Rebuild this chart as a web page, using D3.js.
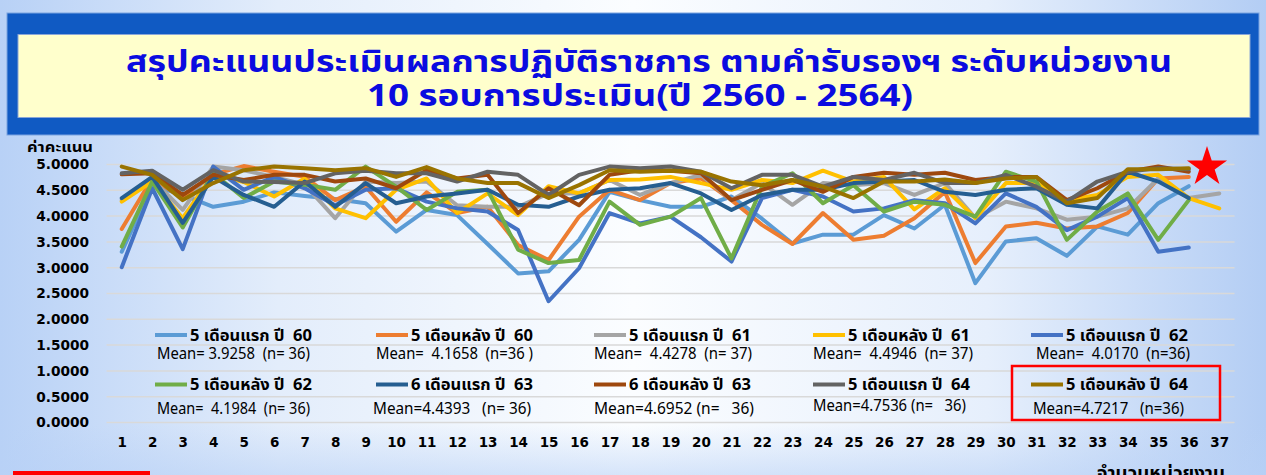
<!DOCTYPE html>
<html>
<head>
<meta charset="utf-8">
<script src="https://cdn.jsdelivr.net/npm/d3@7"></script>
<style>
html, body { margin: 0; padding: 0; overflow: hidden; background: #fff; }
svg { display: block; }
text { white-space: pre; }
</style>
</head>
<body>
<svg id="chart" width="1266" height="475"></svg>
<script>
// x categories: unit numbers 1..37
var units = d3.range(1, 38);
var yTicks = [0, 0.5, 1, 1.5, 2, 2.5, 3, 3.5, 4, 4.5, 5];

var titleLines = [
    'สรุปคะแนนประเมินผลการปฏิบัติราชการ ตามคำรับรองฯ ระดับหน่วยงาน',
    '10 รอบการประเมิน(ปี 2560 - 2564)'
];
var yTitle = 'ค่าคะแนน';
var xTitle = 'จำนวนหน่วยงาน';

var seriesNames = [
    '5 เดือนแรก ปี  60', '5 เดือนหลัง ปี  60', '5 เดือนแรก ปี  61', '5 เดือนหลัง ปี  61', '5 เดือนแรก ปี  62',
    '5 เดือนหลัง ปี  62', '6 เดือนแรก ปี  63', '6 เดือนหลัง ปี  63', '5 เดือนแรก ปี  64', '5 เดือนหลัง ปี  64'
];
var seriesMeans = [
    'Mean= 3.9258  (n= 36)', 'Mean=  4.1658  (n=36 )', 'Mean=  4.4278  (n= 37)', 'Mean=  4.4946  (n= 37)', 'Mean=  4.0170  (n=36)',
    'Mean=  4.1984  (n= 36)', 'Mean=4.4393   (n= 36)', 'Mean=4.6952 (n=   36)', 'Mean=4.7536 (n=   36)', 'Mean=4.7217   (n=36)'
];
var seriesColors = ['#5b9bd5', '#ed7d31', '#a5a5a5', '#ffc000', '#4472c4', '#70ad47', '#255e91', '#9e480e', '#636363', '#997300'];

var first60 = [3.30, 4.58, 4.40, 4.17, 4.27, 4.45, 4.38, 4.32, 4.24, 3.69, 4.11, 4.01, 3.45, 2.88, 2.92, 3.53, 4.46, 4.30,
    4.17, 4.17, 4.37, 3.94, 3.46, 3.63, 3.63, 4.01, 3.75, 4.21, 2.69, 3.50, 3.56, 3.22, 3.79, 3.63, 4.24, 4.57];
var last60 = [3.74, 4.72, 4.34, 4.80, 4.96, 4.85, 4.75, 4.30, 4.56, 3.88, 4.45, 4.05, 4.17, 3.43, 3.14, 3.98, 4.50, 4.30,
    4.63, 4.72, 4.30, 3.82, 3.45, 4.05, 3.53, 3.61, 3.95, 4.46, 3.08, 3.79, 3.86, 3.75, 3.79, 4.05, 4.72, 4.75];
var first61 = [4.30, 4.70, 4.11, 4.95, 4.88, 4.75, 4.60, 3.95, 4.66, 4.63, 4.66, 4.20, 4.17, 4.17, 4.43, 4.43, 4.69, 4.40,
    4.63, 4.79, 4.30, 4.63, 4.21, 4.63, 4.59, 4.63, 4.40, 4.63, 3.95, 4.27, 4.14, 3.92, 3.98, 4.14, 4.72, 4.34, 4.43];
var last61 = [4.27, 4.66, 3.95, 4.80, 4.65, 4.37, 4.72, 4.14, 3.95, 4.50, 4.72, 4.05, 4.43, 4.01, 4.57, 4.43, 4.69, 4.70,
    4.75, 4.63, 4.50, 4.69, 4.63, 4.87, 4.66, 4.75, 4.12, 4.53, 3.95, 4.63, 4.63, 4.30, 4.40, 4.75, 4.79, 4.34, 4.14];
var first62 = [3.00, 4.53, 3.35, 4.95, 4.50, 4.75, 4.53, 4.20, 4.50, 4.53, 4.27, 4.14, 4.08, 3.72, 2.34, 2.98, 4.05, 3.85,
    3.98, 3.58, 3.11, 4.34, 4.50, 4.37, 4.08, 4.14, 4.30, 4.24, 3.85, 4.43, 4.17, 3.72, 3.98, 4.34, 3.30, 3.38];
var last62 = [3.40, 4.66, 3.77, 4.82, 4.34, 4.66, 4.60, 4.50, 4.95, 4.56, 4.11, 4.46, 4.50, 3.34, 3.08, 3.14, 4.27, 3.82,
    3.98, 4.34, 3.17, 4.56, 4.82, 4.24, 4.59, 4.08, 4.27, 4.21, 3.98, 4.85, 4.66, 3.53, 4.08, 4.43, 3.53, 4.30];
var first63 = [4.34, 4.75, 3.86, 4.75, 4.40, 4.17, 4.66, 4.17, 4.63, 4.24, 4.37, 4.43, 4.50, 4.21, 4.17, 4.37, 4.50, 4.53,
    4.63, 4.43, 4.11, 4.40, 4.50, 4.50, 4.63, 4.66, 4.69, 4.46, 4.40, 4.50, 4.53, 4.21, 4.14, 4.85, 4.66, 4.34];
var last63 = [4.80, 4.82, 4.40, 4.79, 4.69, 4.79, 4.79, 4.66, 4.72, 4.53, 4.88, 4.72, 4.79, 4.05, 4.53, 4.20, 4.79, 4.88,
    4.87, 4.82, 4.30, 4.50, 4.69, 4.46, 4.75, 4.83, 4.79, 4.83, 4.69, 4.75, 4.75, 4.30, 4.53, 4.85, 4.95, 4.85];
var first64 = [4.82, 4.87, 4.50, 4.88, 4.66, 4.65, 4.63, 4.82, 4.87, 4.82, 4.82, 4.66, 4.85, 4.79, 4.40, 4.79, 4.95, 4.92,
    4.95, 4.85, 4.53, 4.79, 4.79, 4.56, 4.75, 4.69, 4.83, 4.63, 4.63, 4.79, 4.56, 4.27, 4.66, 4.85, 4.92, 4.90];
var last64 = [4.95, 4.79, 4.30, 4.63, 4.88, 4.95, 4.92, 4.88, 4.92, 4.75, 4.94, 4.72, 4.63, 4.63, 4.34, 4.59, 4.88, 4.85,
    4.87, 4.85, 4.66, 4.59, 4.69, 4.56, 4.34, 4.66, 4.66, 4.70, 4.63, 4.72, 4.75, 4.24, 4.34, 4.90, 4.90, 4.92];

var allSeries = [first60, last60, first61, last61, first62, last62, first63, last63, first64, last64];

var THAI = "Tahoma, 'Noto Sans Thai', Garuda, Loma, 'Noto Sans', 'DejaVu Sans', sans-serif";
var NUM = "'DejaVu Sans', Verdana, sans-serif";

var svg = d3.select('#chart');
var defs = svg.append('defs');

// page background
var bg = defs.append('linearGradient').attr('id', 'bgH').attr('x1', 0).attr('x2', 1).attr('y1', 0).attr('y2', 0);
[['0', '#b8d1f6'], ['0.22', '#e3edfb'], ['0.5', '#fbfdff'], ['0.78', '#e6effc'], ['1', '#b3cdf4']].forEach(function (s) {
    bg.append('stop').attr('offset', s[0]).attr('stop-color', s[1]);
});
var bgV = defs.append('linearGradient').attr('id', 'bgV').attr('x1', 0).attr('x2', 0).attr('y1', 0).attr('y2', 1);
bgV.append('stop').attr('offset', '0').attr('stop-color', '#b8d1f6').attr('stop-opacity', 0);
bgV.append('stop').attr('offset', '1').attr('stop-color', '#b8d1f6').attr('stop-opacity', 0.55);

svg.append('rect').attr('width', 1266).attr('height', 475).attr('fill', 'url(#bgH)');
svg.append('rect').attr('y', 425).attr('width', 1266).attr('height', 50).attr('fill', 'url(#bgV)');

// title banner
svg.append('rect').attr('x', 7).attr('y', 13).attr('width', 1252).attr('height', 122)
    .attr('fill', '#105ac3').attr('stroke', '#7aa3e0').attr('stroke-width', 1);
svg.append('rect').attr('x', 18).attr('y', 34.5).attr('width', 1232).attr('height', 83)
    .attr('fill', '#ffffcc').attr('stroke', '#8aa6d6').attr('stroke-width', 1);

svg.selectAll('text.title').data(titleLines).enter().append('text')
    .attr('class', 'title')
    .attr('x', function (d, i) { return i === 0 ? 649 : 640; })
    .attr('y', function (d, i) { return i === 0 ? 72 : 106; })
    .attr('text-anchor', 'middle')
    .attr('textLength', function (d, i) { return i === 0 ? 1046 : 546; })
    .attr('lengthAdjust', 'spacingAndGlyphs')
    .style('font-family', THAI).style('font-weight', 'bold').style('font-size', '30px')
    .attr('fill', '#0b0be0')
    .text(function (d) { return d; });

// scales
var x = d3.scalePoint().domain(units).range([106.5, 1234.5]).padding(0.5);
var y = d3.scaleLinear().domain([0, 5]).range([422, 164]);

// gridlines
svg.append('g')
    .attr('transform', 'translate(106.5,0)')
    .call(d3.axisLeft(y).tickValues(yTicks).tickSize(-1128).tickFormat(''))
    .call(function (g) {
        g.select('.domain').remove();
        g.selectAll('line').attr('stroke', '#d9d9d9').attr('stroke-width', 1.5);
    });

// y axis labels
svg.append('g')
    .attr('transform', 'translate(89,0)')
    .call(d3.axisLeft(y).tickValues(yTicks).tickSize(0).tickPadding(0).tickFormat(d3.format('.4f')))
    .call(function (g) {
        g.select('.domain').remove();
        g.selectAll('text').attr('fill', '#000').attr('dy', '0.36em')
            .style('font-family', NUM).style('font-weight', 'bold').style('font-size', '13.7px');
    });

svg.append('text').attr('x', 27).attr('y', 152).attr('textLength', 66).attr('lengthAdjust', 'spacingAndGlyphs')
    .style('font-family', THAI).style('font-weight', 'bold').style('font-size', '14px')
    .text(yTitle);

// x axis labels
svg.append('g')
    .attr('transform', 'translate(0,447)')
    .call(d3.axisBottom(x).tickSize(0).tickPadding(0))
    .call(function (g) {
        g.select('.domain').remove();
        g.selectAll('text').attr('fill', '#000').attr('dy', 0)
            .style('font-family', NUM).style('font-weight', 'bold').style('font-size', '13.5px');
    });

svg.append('text').attr('x', 1097).attr('y', 479).attr('textLength', 128).attr('lengthAdjust', 'spacingAndGlyphs')
    .style('font-family', THAI).style('font-weight', 'bold').style('font-size', '18px')
    .text(xTitle);

// legend (drawn under the lines)
var legendCols = [155, 376, 594, 813, 1031];
var meanCols = [157, 376, 594, 813, 1036, 157, 373, 594, 813, 1033];
var meanRowsY = [359, 359, 359, 359, 359, 414, 414, 414, 411, 414];
var legend = svg.append('g');
var items = legend.selectAll('g').data(seriesNames).enter().append('g');
items.append('line')
    .attr('x1', function (d, i) { return legendCols[i % 5]; })
    .attr('x2', function (d, i) { return legendCols[i % 5] + 32; })
    .attr('y1', function (d, i) { return i < 5 ? 335 : 384.5; })
    .attr('y2', function (d, i) { return i < 5 ? 335 : 384.5; })
    .attr('stroke', function (d, i) { return seriesColors[i]; })
    .attr('stroke-width', 4);
items.append('text')
    .attr('x', function (d, i) { return legendCols[i % 5] + 35; })
    .attr('y', function (d, i) { return i < 5 ? 340.5 : 390; })
    .attr('textLength', 122).attr('lengthAdjust', 'spacingAndGlyphs')
    .style('font-family', THAI).style('font-weight', 'bold').style('font-size', '16.5px')
    .text(function (d) { return d; });
items.append('text')
    .attr('x', function (d, i) { return meanCols[i]; })
    .attr('y', function (d, i) { return meanRowsY[i]; })
    .attr('textLength', function (d, i) { return [153, 157, 158, 160, 154, 153, 158, 160, 153, 151][i]; })
    .attr('lengthAdjust', 'spacingAndGlyphs')
    .style('font-family', THAI).style('font-size', '15.5px')
    .text(function (d, i) { return seriesMeans[i]; });

legend.append('rect').attr('x', 1012).attr('y', 366).attr('width', 208).attr('height', 54)
    .attr('fill', 'none').attr('stroke', '#ff0000').attr('stroke-width', 2.5);

// series lines
var line = d3.line()
    .x(function (d, i) { return x(units[i]); })
    .y(function (d) { return y(d); });

svg.append('g').selectAll('path').data(allSeries).enter().append('path')
    .attr('d', line)
    .attr('fill', 'none')
    .attr('stroke', function (d, i) { return seriesColors[i]; })
    .attr('stroke-width', 4)
    .attr('stroke-linejoin', 'round')
    .attr('stroke-linecap', 'round');

// star marker
svg.append('path')
    .attr('d', d3.symbol().type(d3.symbolStar).size(500)())
    .attr('transform', 'translate(1207,167)')
    .attr('fill', '#ff0000');

// red bar bottom left
svg.append('rect').attr('x', 13).attr('y', 471).attr('width', 137).attr('height', 4).attr('fill', '#ff0000');
</script>
</body>
</html>
